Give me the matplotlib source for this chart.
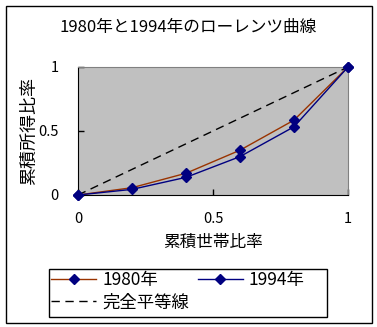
import matplotlib
matplotlib.use("Agg")
import matplotlib.pyplot as plt
from matplotlib.patches import Rectangle

plt.rcParams['font.family'] = ['Noto Sans CJK JP', 'DejaVu Sans']

# cumulative household share (x) and cumulative income share (y)
households = [0.0, 0.2, 0.4, 0.6, 0.8, 1.0]
income_1980 = [0.0, 0.057, 0.17, 0.35, 0.585, 1.0]
income_1994 = [0.0, 0.044, 0.138, 0.30, 0.533, 1.0]
equality = [0.0, 1.0]

BROWN = "#993300"
NAVY = "#000080"
W, H = 377, 327

fig = plt.figure(figsize=(W / 100, H / 100), dpi=100)
ax = fig.add_axes([78 / W, 1 - 195 / H, 270 / W, 128 / H])
ax.set_facecolor("#c0c0c0")

l80, = ax.plot(households, income_1980, color=BROWN, lw=1, marker="D",
               ms=5.5, mfc=NAVY, mec=NAVY, label="1980年", clip_on=False, zorder=3)
l94, = ax.plot(households, income_1994, color=NAVY, lw=1, marker="D",
               ms=5.5, mfc=NAVY, mec=NAVY, label="1994年", clip_on=False, zorder=3)
leq, = ax.plot(equality, equality, color="black", lw=1, ls=(0, (6, 4)),
               label="完全平等線", zorder=2)

ax.set_xlim(0, 1)
ax.set_ylim(0, 1)
ax.set_xticks([0, 0.5, 1])
ax.set_xticklabels(["0", "0.5", "1"])
ax.set_yticks([0, 0.5, 1])
ax.set_yticklabels(["0", "0.5", "1"])
ax.tick_params(direction="in", length=4, width=1, labelsize=10.5)
ax.tick_params(axis="x", pad=12)
ax.tick_params(axis="y", pad=14)

for side in ("left", "bottom"):
    ax.spines[side].set_color("black")
for side in ("top", "right"):
    ax.spines[side].set_color("#808080")

ax.set_xlabel("累積世帯比率", fontsize=12, labelpad=6)
ax.set_ylabel("累積所得比率", fontsize=13, va="center")
ax.yaxis.set_label_coords(-49 / 270, 0.5)
fig.text(0.5, 1 - 27 / H, "1980年と1994年のローレンツ曲線", ha="center",
         va="center", fontsize=12)

leg = fig.legend([l80, leq, l94], ["1980年", "完全平等線", "1994年"],
                 ncol=2, loc="upper left", bbox_to_anchor=(51 / W, 1 - 271 / H),
                 frameon=False, fontsize=12.5, handlelength=2.6,
                 handletextpad=0.35, columnspacing=0.5, borderpad=0,
                 labelspacing=0.25, borderaxespad=0)

# legend box and outer chart border
fig.patches.append(Rectangle((49 / W, 1 - 317 / H), 278 / W, 48 / H,
                             transform=fig.transFigure, fill=False,
                             edgecolor="black", lw=1))
fig.patches.append(Rectangle((6 / W, 4 / H), 366 / W, 317 / H,
                             transform=fig.transFigure, fill=False,
                             edgecolor="black", lw=1))

fig.savefig("out.png", dpi=100)
